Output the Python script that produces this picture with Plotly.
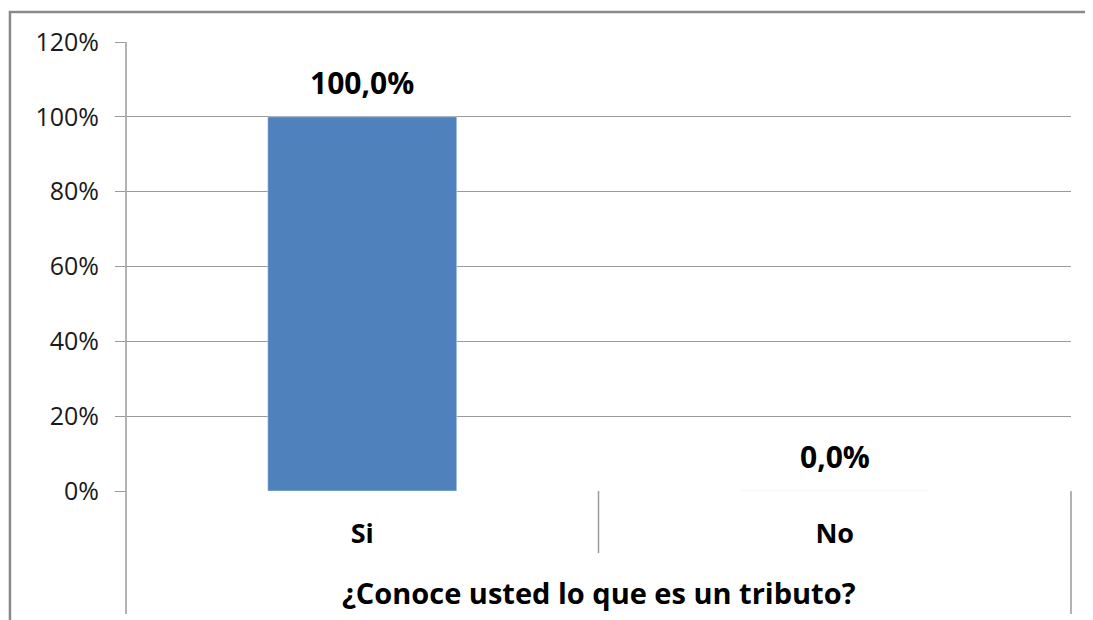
import plotly.graph_objects as go

categories = ["Si", "No"]
values = [1.0, 0.0]
y_ticks = [0, 0.2, 0.4, 0.6, 0.8, 1.0, 1.2]
x_title = "¿Conoce usted lo que es un tributo?"

GRID = "#9a9a9a"
FONT = "Open Sans"


def pct(v):
    return f"{v * 100:.1f}%".replace(".", ",")


fig = go.Figure(go.Bar(
    x=categories,
    y=values,
    marker_color="#4f81bd",
    width=0.4,
    hoverinfo="x+y",
))

# data labels above the bars
for c, v in zip(categories, values):
    fig.add_annotation(
        x=c, y=v, text=f"<b>{pct(v)}</b>", showarrow=False,
        yanchor="bottom", yshift=12,
        font=dict(size=30, family=FONT, color="#000000"),
    )

# axis title
fig.add_annotation(
    xref="paper", yref="paper", x=0.5, y=-0.227,
    text=f"<b>{x_title}</b>", showarrow=False, yanchor="middle",
    font=dict(size=29, family=FONT, color="#000000"),
)

fig.update_layout(
    width=1085, height=612,
    paper_bgcolor="white",
    plot_bgcolor="white",
    showlegend=False,
    margin=dict(l=118, r=22, t=34, b=129),
    font=dict(family=FONT, color="#000000"),
    xaxis=dict(
        tickfont=dict(size=27, family=FONT, color="#000000"),
        ticktext=[f"<b>{c}</b>" for c in categories],
        tickvals=categories,
        ticklabelstandoff=24,
        showgrid=False, zeroline=False,
        showline=False, ticks="",
    ),
    yaxis=dict(
        range=[0, 1.2],
        tickvals=y_ticks,
        tickformat=".0%",
        tickfont=dict(size=25, family=FONT, color="#1a1a1a"),
        showgrid=True, gridcolor=GRID, gridwidth=1,
        zeroline=False,
        showline=False,
        ticks="outside", ticklen=10, tickcolor=GRID,
        ticklabelstandoff=11,
    ),
    shapes=[
        # axis line and category separators extending below plot
        dict(type="line", xref="paper", yref="paper", x0=0, x1=0, y0=1, y1=-0.274,
             line=dict(color=GRID, width=1.5)),
        dict(type="line", xref="paper", yref="paper", x0=0.5, x1=0.5, y0=0, y1=-0.138,
             line=dict(color=GRID, width=1.5)),
        dict(type="line", xref="paper", yref="paper", x0=1, x1=1, y0=0, y1=-0.274,
             line=dict(color=GRID, width=1.5)),
        # outer chart border
        dict(type="rect", xref="paper", yref="paper", x0=-0.1228, x1=1.2, y0=-0.5, y1=1.0668,
             line=dict(color="#8a8a8a", width=2.5)),
    ],
)

fig.write_html("out.html")
